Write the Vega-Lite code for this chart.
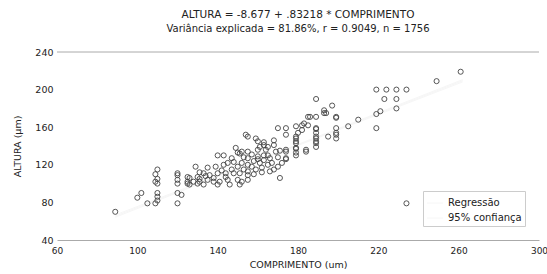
{
  "$schema": "https://vega.github.io/schema/vega-lite/v6.json",
  "width": 482,
  "height": 188,
  "autosize": "none",
  "padding": {"left": 57, "top": 52, "right": 8, "bottom": 34},
  "background": "white",
  "config": {"view": {"stroke": null}, "font": "DejaVu Sans", "axis": {"labelOverlap": false}},
  "title": {
    "text": "ALTURA = -8.677 + .83218 * COMPRIMENTO",
    "subtitle": "Variância explicada = 81.86%, r = 0.9049, n = 1756",
    "fontSize": 10.5,
    "subtitleFontSize": 10,
    "fontWeight": "normal",
    "color": "#222222",
    "subtitleColor": "#222222",
    "offset": 13,
    "subtitlePadding": 4,
    "anchor": "middle"
  },
  "encoding": {
    "x": {
      "field": "comprimento",
      "type": "quantitative",
      "scale": {"domain": [60, 300], "nice": false, "zero": false},
      "axis": {
        "title": "COMPRIMENTO (um)",
        "values": [60, 100, 140, 180, 220, 260, 300],
        "grid": false,
        "ticks": false,
        "domain": true,
        "domainColor": "#aaaaaa",
        "labelFontSize": 9,
        "labelColor": "#222222",
        "labelPadding": 6,
        "labelOverlap": false,
        "labelBound": false,
        "labelFlush": false,
        "titleFontSize": 9.5,
        "titleFontWeight": "normal",
        "titleColor": "#222222",
        "titlePadding": 4
      }
    },
    "y": {
      "field": "altura",
      "type": "quantitative",
      "scale": {"domain": [40, 240], "nice": false, "zero": false},
      "axis": {
        "title": "ALTURA (µm)",
        "values": [40, 80, 120, 160, 200, 240],
        "grid": false,
        "ticks": false,
        "domain": false,
        "labelFontSize": 9.5,
        "labelColor": "#222222",
        "labelPadding": 4,
        "labelOverlap": false,
        "labelBound": false,
        "labelFlush": false,
        "titleFontSize": 9.5,
        "titleFontWeight": "normal",
        "titleColor": "#222222",
        "titlePadding": 12
      }
    }
  },
  "layer": [
    {
      "data": {"values": [
        {"comprimento": 89, "altura": 65.4, "serie": "Regressão", "linha": "r"},
        {"comprimento": 160, "altura": 124.5, "serie": "Regressão", "linha": "r"},
        {"comprimento": 262, "altura": 209.4, "serie": "Regressão", "linha": "r"},
        {"comprimento": 89, "altura": 66.6, "serie": "95% confiança", "linha": "u"},
        {"comprimento": 160, "altura": 124.9, "serie": "95% confiança", "linha": "u"},
        {"comprimento": 262, "altura": 210.6, "serie": "95% confiança", "linha": "u"},
        {"comprimento": 89, "altura": 64.2, "serie": "95% confiança", "linha": "l"},
        {"comprimento": 160, "altura": 124.1, "serie": "95% confiança", "linha": "l"},
        {"comprimento": 262, "altura": 208.2, "serie": "95% confiança", "linha": "l"}
      ]},
      "mark": {"type": "line", "strokeWidth": 1},
      "encoding": {
        "detail": {"field": "linha"},
        "color": {
          "field": "serie",
          "type": "nominal",
          "scale": {"domain": ["Regressão", "95% confiança"], "range": ["#f6f6f6", "#f6f6f6"]},
          "legend": {
            "title": null,
            "orient": "bottom-right",
            "offset": 14,
            "symbolType": "stroke",
            "symbolSize": 260,
            "symbolStrokeWidth": 1,
            "labelFontSize": 10,
            "labelColor": "#222222",
            "rowPadding": 1,
            "padding": 3,
            "strokeColor": "#cccccc"
          }
        }
      }
    },
    {
      "data": {"values": [
        {"comprimento": 89, "altura": 70}, {"comprimento": 100, "altura": 85}, {"comprimento": 102, "altura": 90},
        {"comprimento": 105, "altura": 79}, {"comprimento": 109, "altura": 79}, {"comprimento": 110, "altura": 90},
        {"comprimento": 110, "altura": 86}, {"comprimento": 110, "altura": 82}, {"comprimento": 109, "altura": 102},
        {"comprimento": 110, "altura": 105}, {"comprimento": 110, "altura": 100}, {"comprimento": 109, "altura": 110},
        {"comprimento": 110, "altura": 115}, {"comprimento": 120, "altura": 109}, {"comprimento": 120, "altura": 100},
        {"comprimento": 120, "altura": 90}, {"comprimento": 120, "altura": 79}, {"comprimento": 125, "altura": 107},
        {"comprimento": 125, "altura": 100}, {"comprimento": 130, "altura": 107}, {"comprimento": 130, "altura": 100},
        {"comprimento": 122, "altura": 88}, {"comprimento": 120, "altura": 111}, {"comprimento": 129, "altura": 118},
        {"comprimento": 131, "altura": 112},
        {"comprimento": 154, "altura": 152}, {"comprimento": 149, "altura": 138}, {"comprimento": 150, "altura": 133},
        {"comprimento": 140, "altura": 130}, {"comprimento": 143, "altura": 130}, {"comprimento": 152, "altura": 134},
        {"comprimento": 155, "altura": 127}, {"comprimento": 148, "altura": 123}, {"comprimento": 143, "altura": 120},
        {"comprimento": 139, "altura": 118}, {"comprimento": 135, "altura": 117}, {"comprimento": 150, "altura": 118},
        {"comprimento": 152, "altura": 122}, {"comprimento": 133, "altura": 111}, {"comprimento": 136, "altura": 109},
        {"comprimento": 140, "altura": 111}, {"comprimento": 144, "altura": 111}, {"comprimento": 148, "altura": 111},
        {"comprimento": 151, "altura": 111}, {"comprimento": 155, "altura": 109}, {"comprimento": 126, "altura": 106},
        {"comprimento": 120, "altura": 104}, {"comprimento": 125, "altura": 102}, {"comprimento": 128, "altura": 102},
        {"comprimento": 131, "altura": 102}, {"comprimento": 135, "altura": 104}, {"comprimento": 138, "altura": 102},
        {"comprimento": 141, "altura": 102}, {"comprimento": 145, "altura": 104}, {"comprimento": 150, "altura": 104},
        {"comprimento": 152, "altura": 102}, {"comprimento": 126, "altura": 99}, {"comprimento": 133, "altura": 99},
        {"comprimento": 140, "altura": 99}, {"comprimento": 146, "altura": 99}, {"comprimento": 151, "altura": 99},
        {"comprimento": 145, "altura": 122}, {"comprimento": 147, "altura": 115}, {"comprimento": 144, "altura": 107},
        {"comprimento": 142, "altura": 114}, {"comprimento": 138, "altura": 106}, {"comprimento": 134, "altura": 108},
        {"comprimento": 147, "altura": 127}, {"comprimento": 131, "altura": 105}, {"comprimento": 153, "altura": 128},
        {"comprimento": 153, "altura": 115},
        {"comprimento": 185, "altura": 171}, {"comprimento": 189, "altura": 171}, {"comprimento": 194, "altura": 175},
        {"comprimento": 199, "altura": 171}, {"comprimento": 170, "altura": 159}, {"comprimento": 174, "altura": 159},
        {"comprimento": 182, "altura": 162}, {"comprimento": 185, "altura": 162}, {"comprimento": 182, "altura": 157},
        {"comprimento": 180, "altura": 154}, {"comprimento": 189, "altura": 159}, {"comprimento": 189, "altura": 154},
        {"comprimento": 189, "altura": 148}, {"comprimento": 189, "altura": 143}, {"comprimento": 195, "altura": 150},
        {"comprimento": 199, "altura": 152}, {"comprimento": 179, "altura": 148}, {"comprimento": 179, "altura": 143},
        {"comprimento": 179, "altura": 138}, {"comprimento": 179, "altura": 133}, {"comprimento": 184, "altura": 134},
        {"comprimento": 174, "altura": 134}, {"comprimento": 174, "altura": 126}, {"comprimento": 164, "altura": 136},
        {"comprimento": 160, "altura": 145}, {"comprimento": 155, "altura": 150}, {"comprimento": 155, "altura": 134},
        {"comprimento": 161, "altura": 139}, {"comprimento": 168, "altura": 141}, {"comprimento": 169, "altura": 134},
        {"comprimento": 163, "altura": 130}, {"comprimento": 160, "altura": 129}, {"comprimento": 166, "altura": 127},
        {"comprimento": 161, "altura": 122}, {"comprimento": 165, "altura": 120}, {"comprimento": 168, "altura": 115},
        {"comprimento": 155, "altura": 120}, {"comprimento": 155, "altura": 113}, {"comprimento": 159, "altura": 115},
        {"comprimento": 155, "altura": 104}, {"comprimento": 171, "altura": 106}, {"comprimento": 151, "altura": 132},
        {"comprimento": 157, "altura": 118}, {"comprimento": 158, "altura": 124}, {"comprimento": 160, "altura": 126},
        {"comprimento": 162, "altura": 117}, {"comprimento": 163, "altura": 125}, {"comprimento": 165, "altura": 130},
        {"comprimento": 167, "altura": 122}, {"comprimento": 170, "altura": 128}, {"comprimento": 166, "altura": 113},
        {"comprimento": 162, "altura": 112}, {"comprimento": 158, "altura": 110}, {"comprimento": 170, "altura": 118},
        {"comprimento": 172, "altura": 122}, {"comprimento": 157, "altura": 131}, {"comprimento": 160, "altura": 136},
        {"comprimento": 163, "altura": 141}, {"comprimento": 171, "altura": 135}, {"comprimento": 168, "altura": 146},
        {"comprimento": 159, "altura": 148}, {"comprimento": 163, "altura": 144},
        {"comprimento": 261, "altura": 219}, {"comprimento": 249, "altura": 209}, {"comprimento": 219, "altura": 200},
        {"comprimento": 224, "altura": 200}, {"comprimento": 229, "altura": 200}, {"comprimento": 234, "altura": 200},
        {"comprimento": 223, "altura": 190}, {"comprimento": 229, "altura": 190}, {"comprimento": 229, "altura": 180},
        {"comprimento": 221, "altura": 177}, {"comprimento": 219, "altura": 174}, {"comprimento": 210, "altura": 168},
        {"comprimento": 205, "altura": 161}, {"comprimento": 199, "altura": 170}, {"comprimento": 197, "altura": 183},
        {"comprimento": 219, "altura": 159}, {"comprimento": 199, "altura": 159}, {"comprimento": 199, "altura": 154},
        {"comprimento": 199, "altura": 148},
        {"comprimento": 189, "altura": 190}, {"comprimento": 193, "altura": 178}, {"comprimento": 193, "altura": 175},
        {"comprimento": 186, "altura": 171}, {"comprimento": 179, "altura": 161}, {"comprimento": 183, "altura": 164},
        {"comprimento": 189, "altura": 158}, {"comprimento": 174, "altura": 152}, {"comprimento": 179, "altura": 150},
        {"comprimento": 179, "altura": 145}, {"comprimento": 189, "altura": 145}, {"comprimento": 189, "altura": 150},
        {"comprimento": 189, "altura": 139}, {"comprimento": 184, "altura": 136}, {"comprimento": 179, "altura": 137},
        {"comprimento": 179, "altura": 130}, {"comprimento": 174, "altura": 136}, {"comprimento": 174, "altura": 127},
        {"comprimento": 165, "altura": 139}, {"comprimento": 234, "altura": 79}
      ]},
      "mark": {"type": "point", "shape": "circle", "filled": false, "size": 26, "stroke": "#444444", "strokeWidth": 0.9, "opacity": 1}
    },
    {
      "data": {"values": [{"comprimento": 60, "comprimento2": 300, "altura": 240}]},
      "mark": {"type": "rule", "color": "#aaaaaa", "strokeWidth": 1},
      "encoding": {"x2": {"field": "comprimento2"}}
    }
  ]
}
